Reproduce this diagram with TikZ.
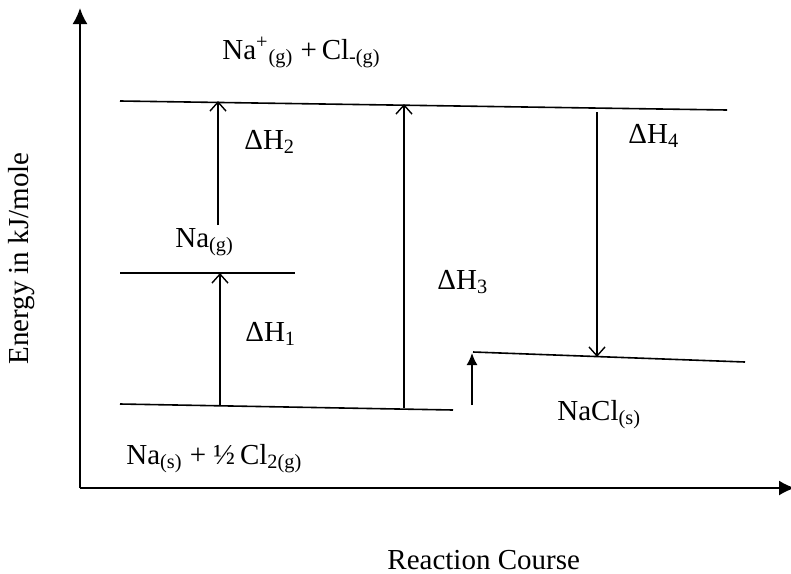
\documentclass[tikz,border=0pt]{standalone}
\usepackage{fontspec}
\setmainfont{Liberation Serif}
\usetikzlibrary{arrows.meta, positioning}

\begin{document}
\begin{tikzpicture}[x=0.5pt, y=-0.5pt,
    level/.style={line width=0.8pt},
    axis/.style={line width=1pt, -{Latex[length=8pt, width=7.5pt]}},
    jump/.style={line width=0.7pt, -{Straight Barb[length=4.5pt, width=8pt]}},
    solid tip/.style={line width=0.8pt, -{Latex[length=6pt, width=5.5pt]}},
    lbl/.style={font=\fontsize{14.5}{17}\selectfont, inner sep=0pt, anchor=base west}]
    \useasboundingbox (0,0) rectangle (791,573);

    % Axes
    \coordinate (origin) at (80,488);
    \coordinate (ytop) at (80,8);
    \coordinate (xend) at (795,488);
    \draw[axis] (origin) -- (ytop);
    \draw[axis] (origin) -- (xend);
    \node[lbl, rotate=90] (ylabel) at (28,365) {Energy in kJ/mole};
    \node[lbl] (xlabel) at (387,569) {Reaction Course};

    % Energy levels
    \coordinate (ions w) at (120,101);  \coordinate (ions e) at (727,110);
    \coordinate (gas w) at (120,273);   \coordinate (gas e) at (295,273);
    \coordinate (elem w) at (120,404);  \coordinate (elem e) at (453,410);
    \coordinate (salt w) at (473,352);  \coordinate (salt e) at (745,362);
    \draw[level] (ions w) -- (ions e);
    \draw[level] (gas w) -- (gas e);
    \draw[level] (elem w) -- (elem e);
    \draw[level] (salt w) -- (salt e);

    % Level labels
    \node[lbl] (ions) at (222,59) {Na\textsuperscript{+}\textsubscript{(g)} +\,Cl\textsubscript{-(g)}};
    \node[lbl] (nag) at (175,247) {Na\textsubscript{(g)}};
    \node[lbl] (elem) at (126,464) {Na\textsubscript{(s)} + ½\,Cl\textsubscript{2(g)}};
    \node[lbl] (salt) at (557,420) {NaCl\textsubscript{(s)}};

    % Arrows
    \coordinate (h1 s) at (220,405);  \coordinate (h1 e) at (220,273);
    \coordinate (h2 s) at (218,225);  \coordinate (h2 e) at (218,101);
    \coordinate (h3 s) at (404,408);  \coordinate (h3 e) at (404,104);
    \coordinate (h4 s) at (597,112);  \coordinate (h4 e) at (597,357);
    \coordinate (up s) at (472,405);  \coordinate (up e) at (472,353);
    \draw[jump] (h1 s) -- (h1 e);
    \draw[jump] (h2 s) -- (h2 e);
    \draw[jump] (h3 s) -- (h3 e);
    \draw[jump] (h4 s) -- (h4 e);
    \draw[solid tip] (up s) -- (up e);

    \node[lbl] (dh1) at (245,341) {ΔH\textsubscript{1}};
    \node[lbl] (dh2) at (244,149) {ΔH\textsubscript{2}};
    \node[lbl] (dh3) at (437,289) {ΔH\textsubscript{3}};
    \node[lbl] (dh4) at (628,143) {ΔH\textsubscript{4}};
\end{tikzpicture}
\end{document}
